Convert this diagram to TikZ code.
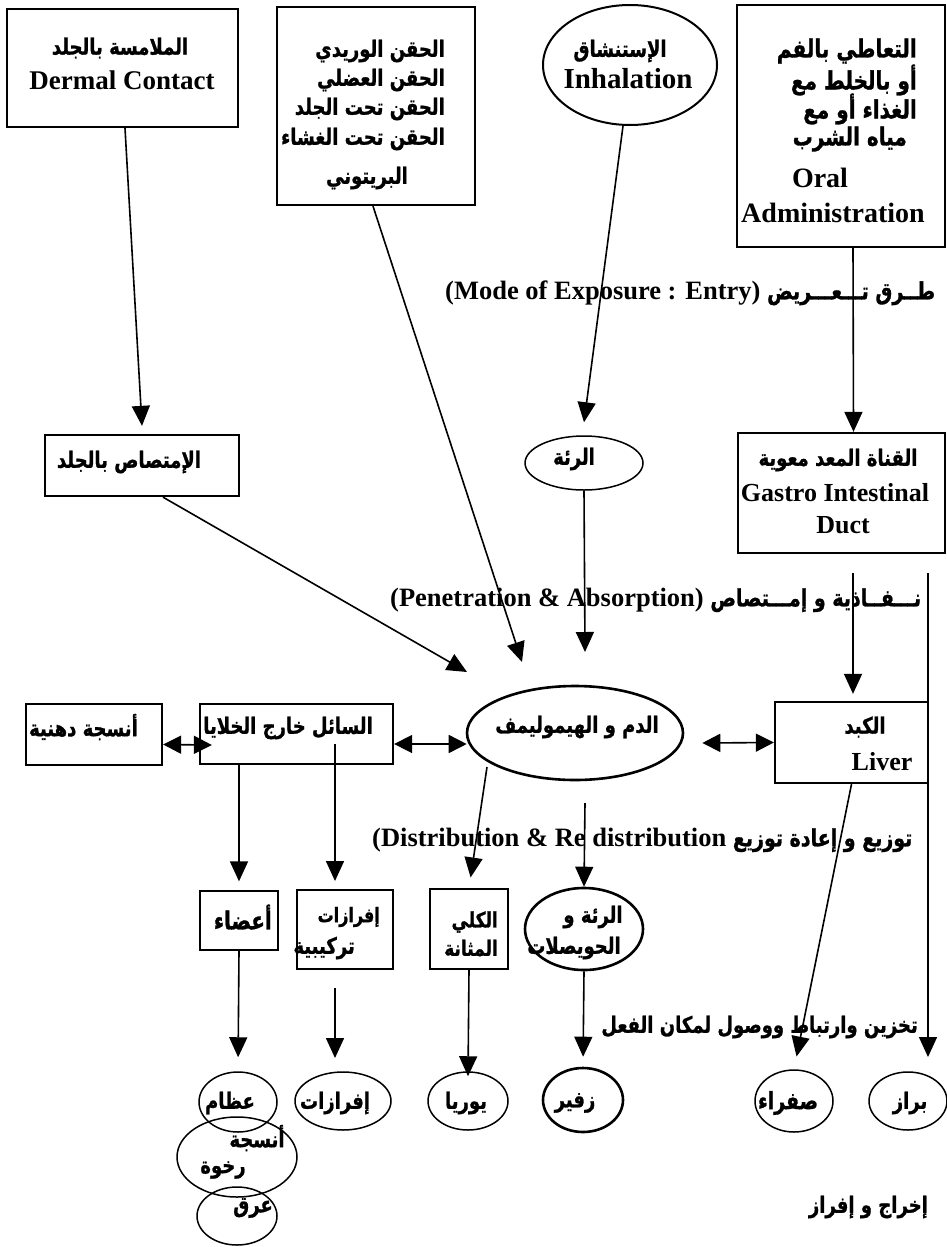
\documentclass[tikz,border=0pt]{standalone}
\usepackage{fontspec}
\usepackage{graphicx}
\setmainfont{Liberation Serif}
\newfontfamily\arfont[Script=Arabic, BoldFont={DejaVu Sans Bold}, BoldFeatures={FakeBold=1.2}]{DejaVu Sans}
\TeXXeTstate=1
\usetikzlibrary{arrows.meta,shapes.geometric}
\newcommand{\AR}[1]{\scalebox{1}[1.25]{\arfont\bfseries\beginR #1\endR}}
\newcommand{\ARl}[1]{\scalebox{1}[1.25]{\fontsize{19}{22}\selectfont\arfont\bfseries\beginR #1\endR}}
\tikzset{
  box/.style={draw, rectangle, line width=2.3pt, inner sep=0pt},
  thinbox/.style={draw, rectangle, line width=1.3pt, inner sep=0pt},
  ell/.style={draw, ellipse, line width=1.5pt, inner sep=0pt},
  thickell/.style={draw, ellipse, line width=2.6pt, inner sep=0pt},
  en/.style={inner sep=0pt, font=\bfseries\fontsize{26}{30}\selectfont},
  ar/.style={inner sep=0pt, font=\fontsize{18}{22}\selectfont},
  arbig/.style={inner sep=0pt, font=\fontsize{20}{24}\selectfont},
  lab/.style={inner sep=0pt, anchor=west, font=\bfseries\fontsize{26.5}{30}\selectfont},
  arlab/.style={inner sep=0pt, anchor=east, font=\fontsize{18}{22}\selectfont},
  arr/.style={line width=1.6pt, -{Triangle[length=20pt,width=18pt]}},
  dbl/.style={line width=1.6pt, {Triangle[length=18pt,width=18pt]}-{Triangle[length=18pt,width=18pt]}}
}
\begin{document}
\begin{tikzpicture}[x=1pt,y=-1pt]
\useasboundingbox[fill=white] (0,0) rectangle (947,1247);

% ---- top row
\node[box, minimum width=231pt, minimum height=118pt] (dermal) at (122.5,68) {};
\node[ar] at (120,48) {\AR{الملامسة بالجلد}};
\node[en, font=\bfseries\fontsize{27}{30}\selectfont] at (122,80) {Dermal Contact};

\node[box, minimum width=198pt, minimum height=198pt] (inj) at (376,106) {};
\node[ar, anchor=east] at (445,51) {\AR{الحقن الوريدي}};
\node[ar, anchor=east] at (445,80) {\AR{الحقن العضلي}};
\node[ar, anchor=east] at (445,109) {\AR{الحقن تحت الجلد}};
\node[ar, anchor=east] at (445,139) {\AR{الحقن تحت الغشاء}};
\node[ar] at (367,178) {\AR{البريتوني}};

\node[ell, line width=2pt, minimum width=174pt, minimum height=120pt] (inh) at (630,65) {};
\node[ar] at (620,51) {\AR{الإستنشاق}};
\node[en, font=\bfseries\fontsize{29}{32}\selectfont] at (628,79) {Inhalation};

\node[box, minimum width=208pt, minimum height=242pt] (oral) at (841,126) {};
\node[arbig, anchor=east] at (917,51) {\AR{التعاطي بالفم}};
\node[arbig, anchor=east] at (917,80) {\AR{أو بالخلط مع}};
\node[arbig, anchor=east] at (917,109) {\AR{الغذاء أو مع}};
\node[arbig, anchor=east] at (907,139) {\AR{مياه الشرب}};
\node[en, font=\bfseries\fontsize{28}{32}\selectfont] at (820,178) {Oral};
\node[en, font=\bfseries\fontsize{28}{32}\selectfont] at (833,213) {Administration};

\node[lab] (l1) at (445,293) {(Mode of Exposure : Entry) \ARl{طــرق تـــعـــريض}};

% ---- second row
\node[box, minimum width=194pt, minimum height=61pt] (absskin) at (142,465.5) {};
\node[ar] at (129,462) {\AR{الإمتصاص بالجلد}};

\node[ell, minimum width=118pt, minimum height=54pt] (lung) at (584,463) {};
\node[ar] at (574,459) {\AR{الرئة}};

\node[box, minimum width=207pt, minimum height=120pt] (gi) at (841.5,493) {};
\node[ar] at (838,460) {\AR{القناة المعد معوية}};
\node[en] at (835,493) {Gastro Intestinal};
\node[en] at (843,525) {Duct};

\node[lab] (l2) at (390,600) {(Penetration \& Absorption) \ARl{نـــفــاذية و إمـــتصاص}};

% ---- middle row
\node[thickell, minimum width=216pt, minimum height=94pt] (blood) at (575,733) {};
\node[ar] at (577,727) {\AR{الدم و الهيموليمف}};

\node[box, minimum width=153pt, minimum height=81pt] (liver) at (851.5,742.5) {};
\node[ar] at (865,727) {\AR{الكبد}};
\node[en] at (882,762) {Liver};

\node[box, minimum width=193pt, minimum height=60pt] (ecf) at (296.5,734) {};
\node[ar, anchor=east] at (373,728) {\AR{السائل خارج الخلايا}};

\node[box, minimum width=136pt, minimum height=61pt] (fat) at (94,734.5) {};
\node[ar, anchor=east] at (138,727) {\AR{أنسجة دهنية}};

\node[lab] (l3) at (372,840) {(Distribution \& Re distribution \ARl{توزيع و إعادة توزيع}};

% ---- lower boxes
\node[thinbox, minimum width=78pt, minimum height=59pt] (organs) at (239,920.5) {};
\node[ar, anchor=east, font=\fontsize{20}{24}\selectfont] at (272,917) {\AR{أعضاء}};

\node[thinbox, minimum width=96pt, minimum height=79pt] (secr) at (345,929.5) {};
\node[ar, anchor=east, font=\fontsize{16}{20}\selectfont] at (380,917) {\AR{إفرازات}};
\node[ar, anchor=east] at (355,948) {\AR{تركيبية}};

\node[thinbox, minimum width=78pt, minimum height=80pt] (kidney) at (469,929) {};
\node[ar, anchor=east, font=\fontsize{17}{20}\selectfont] at (498,922) {\AR{الكلي}};
\node[ar, anchor=east, font=\fontsize{17}{20}\selectfont] at (498,948) {\AR{المثانة}};

\node[thickell, minimum width=118pt, minimum height=82pt] (alv) at (584,929) {};
\node[ar] at (593,917) {\AR{الرئة و}};
\node[ar] at (574,948) {\AR{الحويصلات}};

\node[arlab] (l4) at (918,1027) {\AR{تخزين وارتباط ووصول لمكان الفعل}};

% ---- bottom ellipses
\node[ell, minimum width=78pt, minimum height=60pt] (bones) at (238,1102) {};
\node[ell, minimum width=120pt, minimum height=80pt] (soft) at (237,1157) {};
\node[ell, minimum width=80pt, minimum height=58pt] (sweat) at (237,1216) {};
\node[ar] at (230,1103) {\AR{عظام}};
\node[ar] at (257,1138) {\AR{أنسجة}};
\node[ar] at (223,1170) {\AR{رخوة}};
\node[ar] at (253,1208) {\AR{عرق}};

\node[ell, minimum width=96pt, minimum height=58pt] (secr2) at (343,1101) {};
\node[ar] at (335,1103) {\AR{إفرازات}};
\node[ell, minimum width=80pt, minimum height=58pt] (urea) at (468,1101) {};
\node[ar] at (466,1103) {\AR{يوريا}};
\node[thickell, minimum width=80pt, minimum height=64pt] (exh) at (583,1100) {};
\node[ar] at (575,1103) {\AR{زفير}};
\node[ell, minimum width=78pt, minimum height=62pt] (bile) at (794,1101) {};
\node[ar, font=\fontsize{19}{22}\selectfont] at (788,1103) {\AR{صفراء}};
\node[ell, minimum width=78pt, minimum height=58pt] (feces) at (908,1101) {};
\node[ar] at (910,1103) {\AR{براز}};

\node[arlab] (l5) at (928,1207) {\AR{إخراج و إفراز}};

% ---- coordinates for free ends
\coordinate (injtip) at (522,662);
\coordinate (skintip) at (467,672);
\coordinate (lungtip) at (585,652);
\coordinate (gistart) at (853,573);
\coordinate (rtop) at (928,573);
\coordinate (rtip) at (928,1057);
\coordinate (secrstart) at (335,744);
\coordinate (secrtip) at (335,881);
\coordinate (bkstart) at (487,767);
\coordinate (bastart) at (585,803);
\coordinate (s2start) at (335,988);
\coordinate (s2tip) at (335,1058);

% ---- connectors
\draw[arr] ([xshift=2.5pt]dermal.south) -- ([yshift=8pt]absskin.north);
\draw[arr] ([xshift=-3pt]inj.south) -- (injtip);
\draw[arr] ([xshift=-7pt]inh.south) -- ([yshift=13pt]lung.north);
\draw[arr] ([xshift=12pt]oral.south) -- ([xshift=12pt]gi.north);
\draw[arr] ([xshift=21pt]absskin.south) -- (skintip);
\draw[arr] (lung.south) -- (lungtip);
\draw[arr] (gistart) -- ([shift={(1.5,-7)}]liver.north);
\draw[arr] (rtop) -- (rtip);
\draw[dbl] ([shift={(18,10)}]blood.east) -- (liver.west);
\draw[dbl] ([yshift=-10pt]ecf.east) -- ([shift={(1,11)}]blood.west);
\draw[dbl] ([yshift=-10pt]fat.east) -- ([shift={(13,11)}]ecf.west);
\draw[arr, shorten >=9pt] (ecf.south -| organs.north) -- (organs.north);
\draw[arr] (secrstart) -- (secrtip);
\draw[arr, shorten >=11pt] (bkstart) -- (kidney.north);
\draw[arr] (bastart) -- (alv.north);
\draw[arr, shorten >=13pt] (liver.south) -- (bile.north);
\draw[arr, shorten >=14pt] (organs.south) -- (bones.north);
\draw[arr] (s2start) -- (s2tip);
\draw[arr] (kidney.south) -- ([yshift=-5pt]urea.north);
\draw[arr, shorten >=10pt] (alv.south) -- (exh.north);
\end{tikzpicture}
\end{document}
